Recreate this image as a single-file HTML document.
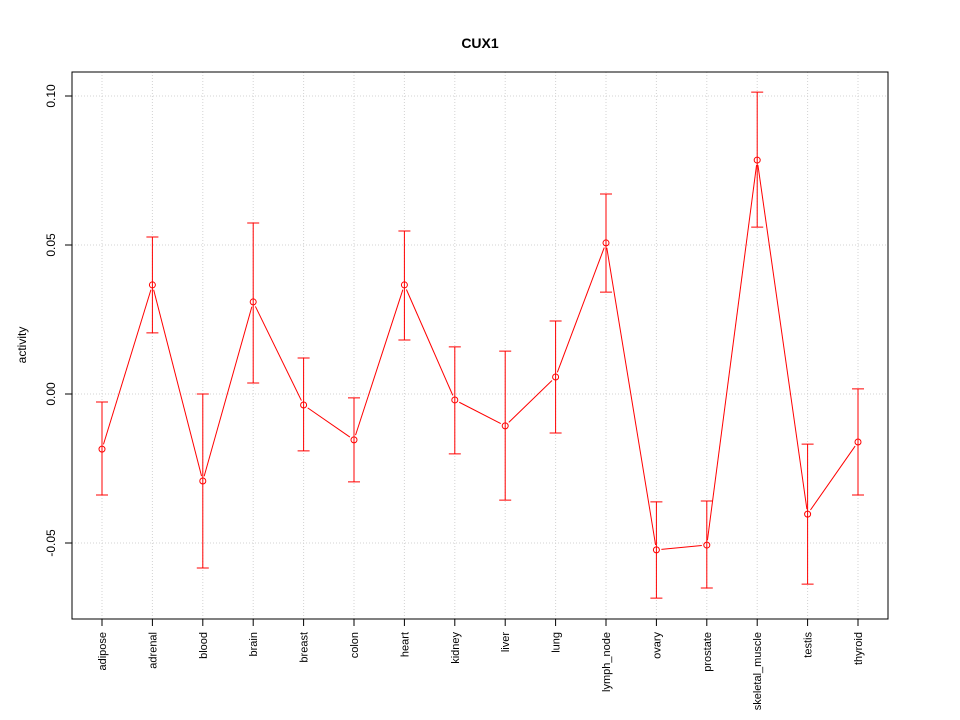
<!DOCTYPE html>
<html><head><meta charset="utf-8"><style>body{margin:0;background:#fff}svg{display:block;font-family:"Liberation Sans",Arial,sans-serif}</style></head>
<body>
<svg id="chart" width="960" height="720">
<text x="480" y="48" text-anchor="middle" font-weight="bold" font-size="14">CUX1</text>
<text transform="translate(26,345) rotate(-90)" text-anchor="middle" font-size="12">activity</text>
<g id="grid"></g><g id="axes"></g><g id="marks"></g>
<rect x="72" y="72" width="816" height="547" fill="none" stroke="#000"/>
</svg>
<script>
const categories=["adipose","adrenal","blood","brain","breast","colon","heart","kidney","liver","lung","lymph_node","ovary","prostate","skeletal_muscle","testis","thyroid"];
const values=[-0.0185,0.0366,-0.0292,0.0309,-0.0037,-0.0154,0.0366,-0.0020,-0.0107,0.0057,0.0507,-0.0523,-0.0507,0.0785,-0.0403,-0.0161];
const upper=[-0.0027,0.0527,0.0,0.0574,0.0121,-0.0013,0.0547,0.0158,0.0144,0.0245,0.0671,-0.0362,-0.0359,0.1013,-0.0168,0.0017];
const lower=[-0.0339,0.0205,-0.0584,0.0037,-0.0191,-0.0295,0.0181,-0.0201,-0.0356,-0.0131,0.0342,-0.0685,-0.0651,0.0560,-0.0638,-0.0339];
const yTicks=[-0.05,0.00,0.05,0.10];
const yTickLabels=["-0.05","0.00","0.05","0.10"];
const NS="http://www.w3.org/2000/svg";
const x=i=>102+i*(858-102)/(categories.length-1);
const y=v=>394-v*2980;
function mk(p,tag,a){const e=document.createElementNS(NS,tag);for(const k in a)e.setAttribute(k,a[k]);p.appendChild(e);return e;}
const G=document.getElementById('grid'),A=document.getElementById('axes'),M=document.getElementById('marks');
categories.forEach((c,i)=>{
 const g=mk(G,'line',{x1:x(i),x2:x(i),y1:72,y2:619,stroke:'#d3d3d3','stroke-dasharray':'1,2'});
 
 
 const t=mk(A,'line',{x1:x(i),x2:x(i),y1:619,y2:626,stroke:'#000'});
 
 
 const l=mk(A,'text',{transform:`translate(${x(i)+4},632) rotate(-90)`,'text-anchor':'end','font-size':'11'});
 l.textContent=c;
 
 
});
yTicks.forEach((v,i)=>{
 const g=mk(G,'line',{x1:72,x2:888,y1:y(v),y2:y(v),stroke:'#d3d3d3','stroke-dasharray':'1,2'});
 
 
 const t=mk(A,'line',{x1:65,x2:72,y1:y(v),y2:y(v),stroke:'#000'});
 
 
 const l=mk(A,'text',{transform:`translate(55,${y(v)}) rotate(-90)`,'text-anchor':'middle','font-size':'12'});
 l.textContent=yTickLabels[i];
 
 
});
mk(A,'line',{x1:72,x2:72,y1:y(yTicks[0]),y2:y(yTicks[3]),stroke:'#000'});
for(let i=0;i<categories.length-1;i++){
 const x1=x(i),y1=y(values[i]),x2=x(i+1),y2=y(values[i+1]);
 const d=Math.hypot(x2-x1,y2-y1),g=5;
 if(d<=2*g)continue;
 const ux=(x2-x1)/d,uy=(y2-y1)/d;
 const s=mk(M,'line',{x1:x1+ux*g,y1:y1+uy*g,x2:x2-ux*g,y2:y2-uy*g,stroke:'red'});
 
 
}
categories.forEach((c,i)=>{
 const cx=x(i);
 const e=mk(M,'path',{d:`M${cx},${y(upper[i])}V${y(lower[i])}M${cx-6},${y(upper[i])}H${cx+6}M${cx-6},${y(lower[i])}H${cx+6}`,stroke:'red',fill:'none'});
 
 
 const p=mk(M,'circle',{cx:cx,cy:y(values[i]),r:3,fill:'none',stroke:'red'});
 
 
});
</script>
</body></html>
